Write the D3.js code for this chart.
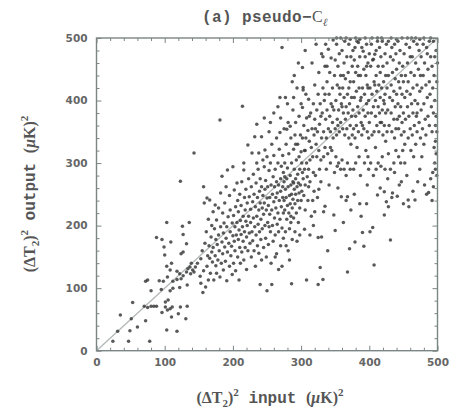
<!DOCTYPE html>
<html lang="en">
<head>
<meta charset="UTF-8">
<title>pseudo-Cl scatter</title>
<script src="https://d3js.org/d3.v7.min.js"></script>
<style>
  body { margin: 0; background: #fff; }
</style>
</head>
<body>
<div id="chart"></div>
<script>
// tick values
var majorTicks = [0, 100, 200, 300, 400, 500];
var minorTicks = [20, 40, 60, 80, 120, 140, 160, 180, 220, 240, 260, 280,
                  320, 340, 360, 380, 420, 440, 460, 480];

// points, [input, output], split by input range
var pts0 = [[24,15],[31,31],[35,57],[47,15],[49,32],[51,51],[53,77],[60,38],[70,71],[72,48],[72,111],[75,69],
  [75,113],[78,15],[80,96],[80,71],[84,71],[88,71],[88,181],[92,112],[95,98],[96,61],[96,178],[98,111],[99,166]];

var pts100 = [[100,153],[101,78],[101,70],[103,205],[103,135],[103,33],[104,65],[104,118],[105,81],[108,67],[108,96],
  [108,129],[109,174],[110,140],[110,54],[111,70],[112,111],[112,100],[118,127],[118,114],[118,31],[120,59],[122,123],
  [122,101],[123,70],[123,271],[124,155],[124,115],[126,199],[127,186],[127,158],[127,120],[131,51],[132,171],[132,126],
  [133,105],[133,71],[134,131],[136,205],[137,134],[138,123],[139,140],[141,129],[143,126],[143,316],[145,134],[148,140],
  [153,108],[156,93],
  [152,119],[153,147],[155,160],[157,128],[158,236],[159,172],[160,102],[161,190],[162,244],[162,135],[163,152],[164,113],
  [164,210],[165,168],[166,241],[166,148],[167,124],[168,182],[169,200],[169,158],[170,142],[171,222],[171,165],[172,113],
  [173,195],[174,233],[174,152],[175,178],[175,136],[157,262],
  [176,124],[176,209],[177,170],[178,145],[179,228],[179,185],[180,160],[181,369],[181,118],[182,252],[182,198],[183,140],
  [184,279],[184,174],[185,220],[185,155],[186,188],[186,129],[187,204],[188,166],[188,236],[189,143],[190,180],[190,262],
  [191,112],[191,198],[192,289],[192,158],[193,214],[194,172],[195,135],[195,248],[196,190],[196,225],[197,152],[198,167],
  [199,204],[199,122],[200,294],[200,184]];

var pts200 = [[201,140],[201,216],[202,175],[202,257],[203,198],[203,160],[204,230],[204,128],[205,185],[206,205],[206,268],
  [207,150],[207,240],[208,178],[208,222],[209,193],[209,113],[210,165],[210,250],[211,208],[211,140],[212,186],[212,232],
  [213,158],[213,270],[214,391],[214,198],[215,175],[215,215],[216,300],[216,289],[216,145],[217,245],[217,190],[218,225],
  [218,165],[219,207],[219,258],[220,130],[220,182],[221,236],[221,200],[222,329],[222,160],[223,215],[223,275],[224,188],
  [224,246],[225,172],
  [226,226],[226,205],[227,150],[227,262],[228,316],[228,190],[229,238],[229,176],[230,212],[230,282],[231,160],[231,250],
  [232,342],[232,198],[233,230],[233,135],[234,185],[234,268],[235,362],[235,300],[235,215],[236,168],[236,245],[237,202],
  [237,290],[238,316],[238,225],[238,156],[239,255],[239,190],[240,106],[240,236],[240,275],[241,210],[241,178],[242,342],
  [242,262],[242,145],[243,228],[243,195],[244,248],[244,305],[245,218],[245,165],[246,372],[246,294],[246,236],[247,321],
  [247,200],[247,258],[248,180],[248,272],[249,225],[249,150],[250,96],[250,244],[250,310],
  [251,205],[251,262],[252,232],[252,170],[253,350],[253,288],[254,218],[254,245],[255,190],[255,300],[256,265],[256,140],
  [257,106],[257,225],[257,330],[258,250],[258,200],[259,278],[259,175],[260,238],[260,312],[261,212],[261,262],[262,185],
  [262,290],[263,245],[263,228],[264,155],[264,340],[264,270],[265,202],[265,252],[266,300],[266,220],[267,130],[267,265],
  [267,190],[268,240],[268,322],[269,405],[269,349],[269,210],[270,275],[270,255],[270,168],[271,230],[271,295],[272,135],
  [272,485],[272,196],[273,262],[273,312],[273,245],[274,220],[274,180],[274,285],[275,240],[275,355],[275,270],[260,380],
  [255,365],[266,390],[270,372],[262,150],[253,198],
  [276,225],[276,300],[277,405],[277,258],[277,190],[278,245],[278,330],[279,354],[279,210],[279,275],[280,232],[280,292],
  [281,160],[281,262],[281,365],[282,220],[282,315],[283,248],[283,195],[284,359],[284,280],[284,235],[285,205],[285,265],
  [285,340],[286,107],[286,250],[286,300],[287,228],[287,178],[288,270],[288,385],[288,242],[289,405],[289,212],[289,322],
  [290,258],[290,290],[291,190],[291,235],[291,345],[292,365],[292,275],[292,250],[293,220],[293,305],[294,262],[294,175],
  [294,420],[295,240],[295,330],[295,282],[296,205],[296,268],[297,310],[297,252],[297,375],[298,228],[298,290],[298,185],
  [299,345],[299,265],[300,240],[300,318],[300,395],[278,168],[283,145],[290,440],[296,460],[287,430],[280,395],[285,215],
  [292,330],[289,268],[276,278]];

var pts300 = [[301,255],[301,300],[302,453],[302,389],[302,340],[303,421],[303,417],[303,275],[304,360],[304,248],[305,194],
  [305,290],[305,320],[306,265],[306,225],[306,480],[307,410],[307,340],[308,113],[308,300],[308,372],[309,278],[310,352],
  [310,240],[311,402],[311,262],[311,290],[312,335],[313,305],[313,270],[313,185],[314,380],[315,325],[315,215],[316,460],
  [316,355],[317,240],[317,310],[318,395],[318,285],[318,200],[319,345],[319,255],[320,425],[320,370],[320,222],[321,280],
  [322,330],[322,490],[323,385],[323,310],[324,350],[324,245],[325,106],[325,410],[325,181],[312,375],[321,355],[306,320],
  [302,285],
  [326,320],[326,258],[326,445],[327,290],[327,362],[328,133],[328,395],[329,305],[329,270],[330,340],[330,475],[330,182],
  [331,380],[332,114],[332,420],[333,310],[333,350],[333,222],[334,400],[335,231],[335,455],[335,325],[336,370],[336,490],
  [337,340],[337,290],[338,430],[338,385],[339,160],[339,315],[340,482],[340,355],[341,410],[341,265],[342,375],[342,445],
  [343,300],[343,350],[344,395],[344,468],[345,320],[346,365],[346,420],[347,340],[347,497],[348,217],[348,385],[349,440],
  [349,285],[350,192],[350,355],[350,465],[332,470],[338,455],[329,375],[346,390],[335,410],[343,325],
  [351,400],[351,310],[352,490],[352,345],[353,425],[353,295],[353,370],[354,260],[354,455],[355,385],[355,300],[356,475],
  [356,350],[357,410],[358,440],[358,290],[358,365],[359,246],[359,395],[360,480],[360,305],[361,420],[361,355],[362,205],
  [362,380],[363,460],[363,290],[363,405],[364,345],[364,495],[365,370],[365,435],[366,280],[366,390],[366,240],[367,355],
  [367,470],[368,246],[368,126],[368,410],[368,300],[369,445],[369,380],[370,340],[370,490],[371,163],[371,395],[372,430],
  [372,360],[372,290],[373,470],[373,330],[373,225],[374,405],[374,375],[375,455],[375,345],[352,500],[358,500],[366,500],
  [372,498],[356,420],[362,440],[370,420],[360,390],[354,360],
  [379,174],[388,215],[390,189],[392,167],[386,235],[396,235],[378,250],[397,265],
  [377,290],[380,300],[382,325],[385,310],[387,280],[393,300],[395,320],[398,310],[399,290],
  [376,385],[376,480],[377,430],[377,355],[378,405],[378,465],[379,340],[379,485],[380,375],[380,445],[381,415],[381,360],
  [382,495],[383,390],[383,455],[384,493],[384,350],[385,420],[385,380],[386,470],[387,400],[387,440],[388,365],[389,485],
  [389,345],[390,420],[391,479],[391,385],[392,450],[392,355],[393,410],[394,470],[394,375],[395,440],[396,395],[396,490],
  [397,350],[397,425],[398,460],[398,380],[399,400],[399,340],[400,475],[400,365],[380,500],[386,498],[394,500],[384,440],
  [390,360],[396,455],[388,405],[398,420]];

var pts400 = [[401,190],[405,197],[407,137],[412,249],[422,217],[422,254],[425,238],[416,260],
  [402,300],[406,280],[409,325],[410,290],[413,300],[417,295],[419,310],[423,290],[424,335],
  [401,420],[402,455],[403,380],[403,490],[404,345],[404,410],[405,465],[406,466],[406,390],[407,430],[407,350],[408,474],
  [409,400],[409,375],[410,480],[410,440],[411,360],[411,415],[412,495],[413,390],[413,455],[414,425],[414,350],[415,485],
  [415,380],[416,445],[416,405],[417,470],[418,365],[418,420],[419,495],[419,385],[420,455],[420,345],[421,400],[421,430],
  [422,360],[423,475],[423,410],[424,440],[424,380],[425,490],[404,500],[412,500],[418,500],[408,425],[416,365],[422,395],
  [431,177],[434,252],[441,247],[433,245],[428,230],[447,270],[444,265],[450,235],
  [427,275],[428,315],[431,290],[436,300],[437,285],[439,320],[443,310],[446,300],[449,320],
  [426,350],[426,420],[426,460],[427,385],[428,495],[428,440],[429,360],[430,405],[431,470],[432,380],[432,425],[433,485],
  [433,350],[434,400],[434,445],[435,465],[436,370],[436,415],[437,490],[437,340],[438,435],[438,390],[439,355],[439,475],
  [440,410],[440,450],[441,370],[442,495],[442,395],[443,430],[443,355],[444,460],[444,375],[445,420],[445,480],[446,390],
  [447,345],[447,440],[448,500],[448,365],[448,410],[449,455],[450,380],[450,430],[432,500],[440,498],
  [457,241],[467,241],[458,230],[464,255],[471,270],
  [452,300],[455,280],[461,320],[465,310],[468,330],[474,290],[452,330],
  [451,350],[451,475],[452,405],[453,440],[453,370],[454,490],[455,415],[456,390],[456,460],[457,340],[457,430],[458,375],
  [459,485],[460,410],[460,355],[461,445],[462,395],[463,470],[463,345],[464,420],[464,380],[465,495],[466,360],[466,440],
  [467,400],[468,460],[469,375],[470,425],[470,490],[470,350],[471,395],[472,450],[473,365],[473,480],[474,415],[475,440],
  [456,500],[462,500],[468,500],[474,498],[460,470],[470,380],[475,340],
  [487,253],[494,262],[492,240],[484,250],[481,265],
  [496,300],[497,290],[497,335],[498,315],[495,325],[490,275],[493,285],[480,330],[477,310],[499,280],
  [476,385],[476,470],[477,420],[478,355],[479,490],[479,440],[480,395],[481,460],[482,370],[483,425],[483,345],[484,485],
  [485,405],[486,450],[486,375],[488,495],[488,360],[488,430],[489,410],[490,470],[491,390],[492,455],[492,350],[493,420],
  [494,380],[494,495],[495,440],[496,400],[496,470],[497,360],[498,480],[498,375],[499,430],[499,350],[500,460],[480,500],
  [490,500],[485,475]];

var points = pts0.concat(pts100, pts200, pts300, pts400);

var W = 451, H = 414;
var svg = d3.select("#chart").append("svg")
    .attr("width", W)
    .attr("height", H);

var x = d3.scaleLinear().domain([0, 500]).range([96.5, 437.5]);
var y = d3.scaleLinear().domain([0, 500]).range([350.7, 38]);

var frameCol = "#7b8584";
var textCol = "#666";

// y = x reference line
svg.append("line")
    .attr("x1", x(0)).attr("y1", y(0))
    .attr("x2", x(500)).attr("y2", y(500))
    .attr("stroke", "#b4b8b8")
    .attr("stroke-width", 1.3);

// scatter
svg.append("g").selectAll("circle")
    .data(points)
    .enter().append("circle")
    .attr("cx", function(d) { return x(d[0]); })
    .attr("cy", function(d) { return y(d[1]); })
    .attr("r", 1.75)
    .attr("fill", "#3c3c3c")
    .attr("fill-opacity", 0.85);

// ticks on all four sides, pointing inward
function tickAxis(gen, tr, vals, len, labels) {
    var g = svg.append("g")
        .attr("transform", tr)
        .call(gen.tickValues(vals).tickSizeInner(-len).tickSizeOuter(0)
            .tickFormat(labels ? d3.format("d") : ""));
    g.select(".domain").remove();
    g.selectAll(".tick line").attr("stroke", frameCol).attr("stroke-width", 1);
    return g;
}

var bottom = tickAxis(d3.axisBottom(x).tickPadding(8), "translate(0," + y(0) + ")", majorTicks, 5, true);
tickAxis(d3.axisBottom(x), "translate(0," + y(0) + ")", minorTicks, 3, false);
tickAxis(d3.axisTop(x), "translate(0," + y(500) + ")", majorTicks, 5, false);
tickAxis(d3.axisTop(x), "translate(0," + y(500) + ")", minorTicks, 3, false);
var left = tickAxis(d3.axisLeft(y).tickPadding(9), "translate(" + x(0) + ",0)", majorTicks, 5, true);
tickAxis(d3.axisLeft(y), "translate(" + x(0) + ",0)", minorTicks, 3, false);
tickAxis(d3.axisRight(y), "translate(" + x(500) + ",0)", majorTicks, 5, false);
tickAxis(d3.axisRight(y), "translate(" + x(500) + ",0)", minorTicks, 3, false);

[bottom, left].forEach(function(g) {
    g.selectAll(".tick text")
        .attr("fill", textCol)
        .style("font-family", "'DejaVu Sans', sans-serif")
        .style("font-weight", "bold")
        .style("font-size", "10.5px");
});

// frame
svg.append("rect")
    .attr("x", x(0)).attr("y", y(500))
    .attr("width", x(500) - x(0))
    .attr("height", y(0) - y(500))
    .attr("fill", "none")
    .attr("stroke", frameCol)
    .attr("stroke-width", 1.4);

// title
var title = svg.append("text")
    .attr("x", 265).attr("y", 22)
    .attr("text-anchor", "middle")
    .attr("fill", "#555")
    .style("font-family", "'Liberation Mono', monospace")
    .style("font-weight", "bold")
    .style("font-size", "16px")
    .style("letter-spacing", "0.4px");
title.append("tspan").text("(a) pseudo\u2212");
title.append("tspan").style("font-family", "'Liberation Serif', serif").style("font-weight", "normal").text("C");
title.append("tspan").attr("dy", 4).style("font-size", "11px").style("font-style", "italic")
    .style("font-family", "'Liberation Serif', serif").text("\u2113");

// axis labels: (dT2)^2 word (uK)^2
function axisLabel(el, word) {
    el.attr("fill", "#555")
      .style("font-family", "'Liberation Serif', serif")
      .style("font-weight", "bold")
      .style("font-size", "16px");
    el.append("tspan").text("(\u0394T");
    el.append("tspan").attr("dy", 4).style("font-size", "11px").text("2");
    el.append("tspan").attr("dy", -4).text(")");
    el.append("tspan").attr("dy", -7).style("font-size", "11px").text("2");
    el.append("tspan").attr("dy", 7)
        .style("font-family", "'Liberation Mono', monospace")
        .text(" " + word + " ");
    el.append("tspan").text("(");
    el.append("tspan").style("font-style", "italic").text("\u03bc");
    el.append("tspan").text("K)");
    el.append("tspan").attr("dy", -7).style("font-size", "11px").text("2");
}

axisLabel(svg.append("text")
    .attr("x", 270).attr("y", 403)
    .attr("text-anchor", "middle"), "input");

axisLabel(svg.append("text")
    .attr("transform", "translate(35,194) rotate(-90)")
    .attr("text-anchor", "middle"), "output");
</script>
</body>
</html>
